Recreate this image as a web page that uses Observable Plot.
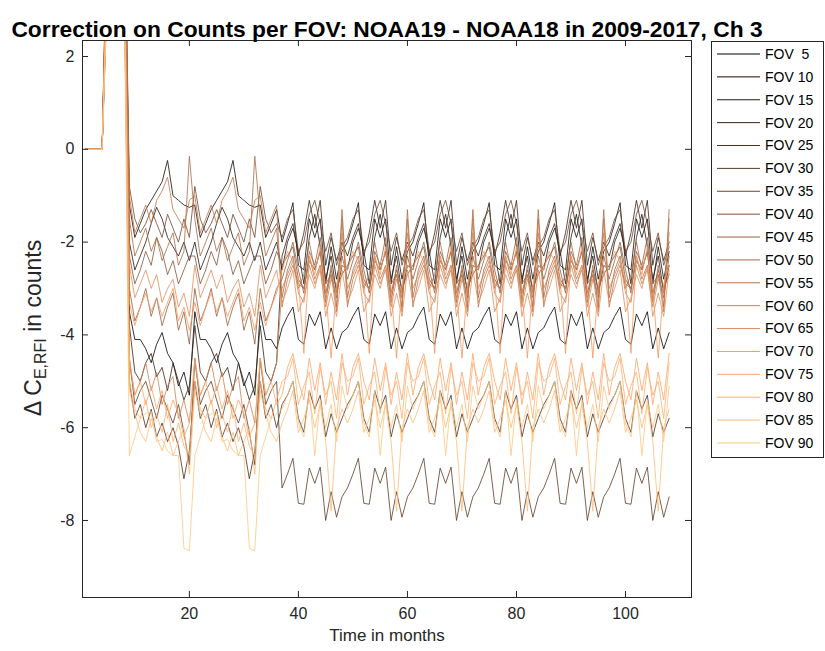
<!DOCTYPE html>
<html>
<head>
<meta charset="utf-8">
<script src="https://cdn.jsdelivr.net/npm/d3@7"></script>
<script src="https://cdn.jsdelivr.net/npm/@observablehq/plot@0.6"></script>
<style>
  html, body { margin: 0; padding: 0; background: #ffffff; }
</style>
</head>
<body>
<div id="chart"></div>
<script>
const titleText = "Correction on Counts per FOV: NOAA19 - NOAA18 in 2009-2017, Ch 3";
const xTicks = [20, 40, 60, 80, 100];
const yTicks = [-8, -6, -4, -2, 0, 2];
const fovLabels = ["FOV\u00a0\u00a05","FOV 10","FOV 15","FOV 20","FOV 25","FOV 30","FOV 35","FOV 40","FOV 45",
                   "FOV 50","FOV 55","FOV 60","FOV 65","FOV 70","FOV 75","FOV 80","FOV 85","FOV 90"];
const colors = ["#000000","#130c07","#25170f","#382316","#4b2f1e","#5e3b25","#71462d","#835234","#965e3c",
                "#a96943","#bb754b","#ce8152","#e18d5a","#f49861","#ffa468","#ffb070","#ffbb77","#ffc77f"];

const fov5 = [0,0,0,0,4.8,7.5,8.2,5.5,
 -3.5,-4.1,-4.1,-4.3,-4.6,-4.2,-3.95,-4.4,-4.6,-5.1,-4.8,-5.3,
 -3.5,-4.1,-4.1,-4.3,-4.6,-4.2,-3.95,-4.4,-4.6,-5.1,-4.8,-5.3,
 -3.5,-4.1,-4.1,-4.3,
 -3.85,-3.6,-3.4,-4.1,-4.2,-3.55,-3.8,-3.5,-4.3,-3.85,-4.3,-3.95,
 -3.85,-3.6,-3.4,-4.1,-4.2,-3.55,-3.8,-3.5,-4.3,-3.85,-4.3,-3.95,
 -3.85,-3.6,-3.4,-4.1,-4.2,-3.55,-3.8,-3.5,-4.3,-3.85,-4.3,-3.95,
 -3.85,-3.6,-3.4,-4.1,-4.2,-3.55,-3.8,-3.5,-4.3,-3.85,-4.3,-3.95,
 -3.85,-3.6,-3.4,-4.1,-4.2,-3.55,-3.8,-3.5,-4.3,-3.85,-4.3,-3.95,
 -3.85,-3.6,-3.4,-4.1,-4.2,-3.55,-3.8,-3.5,-4.3,-3.85,-4.3,-3.95];
const fov10 = [0,0,0,0,5.2,8.0,7.6,6.0,
 -1.2,-1.9,-1.6,-1.3,-1.1,-0.9,-0.7,-0.24,-1.0,-1.1,-1.2,-1.25,
 -1.2,-1.9,-1.6,-1.3,-1.1,-0.9,-0.7,-0.24,-1.0,-1.1,-1.2,-1.25,
 -1.2,-1.9,-1.6,-1.3,
 -2.0,-1.6,-1.15,-2.5,-2.6,-1.5,-1.9,-1.5,-2.9,-2.1,-2.8,-2.2,
 -2.0,-1.6,-1.15,-2.5,-2.6,-1.5,-1.9,-1.5,-2.9,-2.1,-2.8,-2.2,
 -2.0,-1.6,-1.15,-2.5,-2.6,-1.5,-1.9,-1.5,-2.9,-2.1,-2.8,-2.2,
 -2.0,-1.6,-1.15,-2.5,-2.6,-1.5,-1.9,-1.5,-2.9,-2.1,-2.8,-2.2,
 -2.0,-1.6,-1.15,-2.5,-2.6,-1.5,-1.9,-1.5,-2.9,-2.1,-2.8,-2.2,
 -2.0,-1.6,-1.15,-2.5,-2.6,-1.5,-1.9,-1.5,-2.9,-2.1,-2.8,-2.2];
const fov15 = [0,0,0,0,3.9,6.8,7.2,4.6,
 -2.0,-2.6,-2.3,-2.0,-1.6,-1.25,-1.5,-1.9,-2.1,-2.3,-2.0,-2.4,
 -2.0,-2.6,-2.3,-2.0,-1.6,-1.25,-1.5,-1.9,-2.1,-2.3,-2.0,-2.4,
 -2.0,-2.6,-2.3,-2.0,
 -2.6,-2.0,-1.7,-2.2,-2.9,-1.9,-1.4,-2.1,-2.8,-2.3,-3.1,-2.5,
 -2.6,-2.0,-1.7,-2.2,-2.9,-1.9,-1.4,-2.1,-2.8,-2.3,-3.1,-2.5,
 -2.6,-2.0,-1.7,-2.2,-2.9,-1.9,-1.4,-2.1,-2.8,-2.3,-3.1,-2.5,
 -2.6,-2.0,-1.7,-2.2,-2.9,-1.9,-1.4,-2.1,-2.8,-2.3,-3.1,-2.5,
 -2.6,-2.0,-1.7,-2.2,-2.9,-1.9,-1.4,-2.1,-2.8,-2.3,-3.1,-2.5,
 -2.6,-2.0,-1.7,-2.2,-2.9,-1.9,-1.4,-2.1,-2.8,-2.3,-3.1,-2.5];
const fov20 = [0,0,0,0,4.4,7.1,6.9,5.1,
 -3.8,-4.8,-5.0,-4.6,-4.4,-4.9,-4.7,-5.2,-4.6,-5.0,-5.4,-5.1,
 -3.8,-4.8,-5.0,-4.6,-4.4,-4.9,-4.7,-5.2,-4.6,-5.0,-5.4,-5.1,
 -3.8,-4.8,-5.0,-4.6,
 -2.3,-1.9,-1.6,-2.3,-1.8,-1.1,-1.7,-1.1,-2.5,-1.9,-2.4,-2.0,
 -2.3,-1.9,-1.6,-2.3,-1.8,-1.1,-1.7,-1.1,-2.5,-1.9,-2.4,-2.0,
 -2.3,-1.9,-1.6,-2.3,-1.8,-1.1,-1.7,-1.1,-2.5,-1.9,-2.4,-2.0,
 -2.3,-1.9,-1.6,-2.3,-1.8,-1.1,-1.7,-1.1,-2.5,-1.9,-2.4,-2.0,
 -2.3,-1.9,-1.6,-2.3,-1.8,-1.1,-1.7,-1.1,-2.5,-1.9,-2.4,-2.0,
 -2.3,-1.9,-1.6,-2.3,-1.8,-1.1,-1.7,-1.1,-2.5,-1.9,-2.4,-2.0];
const fov25 = [0,0,0,0,3.6,6.2,6.6,4.2,
 -5.0,-5.8,-5.5,-6.0,-5.6,-6.2,-5.9,-6.3,-6.0,-6.4,-7.1,-6.5,
 -5.0,-5.8,-5.5,-6.0,-5.6,-6.2,-5.9,-6.3,-6.0,-6.4,-7.1,-6.5,
 -5.0,-5.8,-5.5,-6.0,
 -5.5,-5.3,-5.0,-5.8,-6.1,-5.2,-5.6,-5.3,-6.2,-5.7,-6.1,-5.8,
 -5.5,-5.3,-5.0,-5.8,-6.1,-5.2,-5.6,-5.3,-6.2,-5.7,-6.1,-5.8,
 -5.5,-5.3,-5.0,-5.8,-6.1,-5.2,-5.6,-5.3,-6.2,-5.7,-6.1,-5.8,
 -5.5,-5.3,-5.0,-5.8,-6.1,-5.2,-5.6,-5.3,-6.2,-5.7,-6.1,-5.8,
 -5.5,-5.3,-5.0,-5.8,-6.1,-5.2,-5.6,-5.3,-6.2,-5.7,-6.1,-5.8,
 -5.5,-5.3,-5.0,-5.8,-6.1,-5.2,-5.6,-5.3,-6.2,-5.7,-6.1,-5.8];
const fov30 = [0,0,0,0,4.0,6.5,7.0,4.4,
 -4.5,-5.5,-5.2,-5.0,-5.4,-5.8,-5.3,-5.6,-5.9,-5.5,-6.1,-6.8,
 -4.5,-5.5,-5.2,-5.0,-5.4,-5.8,-5.3,-5.6,-5.9,-5.5,-6.1,-6.8,
 -4.5,-5.5,-5.2,-5.0,
 -7.3,-7.0,-6.66,-7.63,-7.65,-6.87,-7.2,-6.85,-8.0,-7.38,-7.93,-7.49,
 -7.3,-7.0,-6.66,-7.63,-7.65,-6.87,-7.2,-6.85,-8.0,-7.38,-7.93,-7.49,
 -7.3,-7.0,-6.66,-7.63,-7.65,-6.87,-7.2,-6.85,-8.0,-7.38,-7.93,-7.49,
 -7.3,-7.0,-6.66,-7.63,-7.65,-6.87,-7.2,-6.85,-8.0,-7.38,-7.93,-7.49,
 -7.3,-7.0,-6.66,-7.63,-7.65,-6.87,-7.2,-6.85,-8.0,-7.38,-7.93,-7.49,
 -7.3,-7.0,-6.66,-7.63,-7.65,-6.87,-7.2,-6.85,-8.0,-7.38,-7.93,-7.49];
const fov35 = [0,0,0,0,5.6,8.4,8.0,6.3,
 -0.8,-1.5,-1.8,-1.6,-1.3,-1.6,-1.9,-1.4,-1.7,-2.0,-1.5,-1.9,
 -0.8,-1.5,-1.8,-1.6,-1.3,-1.6,-1.9,-1.4,-1.7,-2.0,-1.5,-1.9,
 -0.8,-1.5,-1.8,-1.6,
 -1.9,-1.5,-1.3,-2.2,-2.0,-1.4,-1.1,-1.6,-2.2,-1.8,-2.5,-2.1,
 -1.9,-1.5,-1.3,-2.2,-2.0,-1.4,-1.1,-1.6,-2.2,-1.8,-2.5,-2.1,
 -1.9,-1.5,-1.3,-2.2,-2.0,-1.4,-1.1,-1.6,-2.2,-1.8,-2.5,-2.1,
 -1.9,-1.5,-1.3,-2.2,-2.0,-1.4,-1.1,-1.6,-2.2,-1.8,-2.5,-2.1,
 -1.9,-1.5,-1.3,-2.2,-2.0,-1.4,-1.1,-1.6,-2.2,-1.8,-2.5,-2.1,
 -1.9,-1.5,-1.3,-2.2,-2.0,-1.4,-1.1,-1.6,-2.2,-1.8,-2.5,-2.1];
const fov40 = [0,0,0,0,4.9,7.4,7.8,5.4,
 -2.3,-2.9,-2.6,-2.2,-2.5,-1.9,-2.2,-2.7,-2.4,-2.9,-2.6,-2.3,
 -2.3,-2.9,-2.6,-2.2,-2.5,-1.9,-2.2,-2.7,-2.4,-2.9,-2.6,-2.3,
 -2.3,-2.9,-2.6,-2.2,
 -2.5,-2.3,-2.1,-2.8,-3.0,-2.4,-2.6,-2.2,-3.1,-2.6,-3.0,-2.7,
 -2.5,-2.3,-2.1,-2.8,-3.0,-2.4,-2.6,-2.2,-3.1,-2.6,-3.0,-2.7,
 -2.5,-2.3,-2.1,-2.8,-3.0,-2.4,-2.6,-2.2,-3.1,-2.6,-3.0,-2.7,
 -2.5,-2.3,-2.1,-2.8,-3.0,-2.4,-2.6,-2.2,-3.1,-2.6,-3.0,-2.7,
 -2.5,-2.3,-2.1,-2.8,-3.0,-2.4,-2.6,-2.2,-3.1,-2.6,-3.0,-2.7,
 -2.5,-2.3,-2.1,-2.8,-3.0,-2.4,-2.6,-2.2,-3.1,-2.6,-3.0,-2.7];
const fov45 = [0,0,0,0,4.3,6.9,7.3,4.9,
 -3.0,-3.7,-3.4,-3.0,-3.6,-3.2,-3.8,-3.4,-3.1,-3.9,-3.5,-4.2,
 -3.0,-3.7,-3.4,-3.0,-3.6,-3.2,-3.8,-3.4,-3.1,-3.9,-3.5,-4.2,
 -3.0,-3.7,-3.4,-3.0,
 -2.8,-2.4,-2.0,-2.6,-3.1,-2.2,-2.5,-1.9,-2.9,-2.7,-3.2,-2.3,
 -2.8,-2.4,-2.0,-2.6,-3.1,-2.2,-2.5,-1.9,-2.9,-2.7,-3.2,-2.3,
 -2.8,-2.4,-2.0,-2.6,-3.1,-2.2,-2.5,-1.9,-2.9,-2.7,-3.2,-2.3,
 -2.8,-2.4,-2.0,-2.6,-3.1,-2.2,-2.5,-1.9,-2.9,-2.7,-3.2,-2.3,
 -2.8,-2.4,-2.0,-2.6,-3.1,-2.2,-2.5,-1.9,-2.9,-2.7,-3.2,-2.3,
 -2.8,-2.4,-2.0,-2.6,-3.1,-2.2,-2.5,-1.9,-2.9,-2.7,-3.2,-2.3];
const fov50 = [0,0,0,0,5.0,7.8,8.3,5.8,
 -1.5,-2.3,-2.0,-1.7,-2.2,-1.9,-2.4,-2.1,-1.8,-2.5,-2.2,-0.15,
 -1.5,-2.3,-2.0,-1.7,-2.2,-1.9,-2.4,-2.1,-1.8,-2.5,-2.2,-0.15,
 -1.5,-2.3,-2.0,-1.7,
 -3.2,-2.6,-2.3,-3.0,-2.7,-2.0,-2.6,-2.2,-3.3,-2.5,-3.4,-1.3,
 -3.2,-2.6,-2.3,-3.0,-2.7,-2.0,-2.6,-2.2,-3.3,-2.5,-3.4,-1.3,
 -3.2,-2.6,-2.3,-3.0,-2.7,-2.0,-2.6,-2.2,-3.3,-2.5,-3.4,-1.3,
 -3.2,-2.6,-2.3,-3.0,-2.7,-2.0,-2.6,-2.2,-3.3,-2.5,-3.4,-1.3,
 -3.2,-2.6,-2.3,-3.0,-2.7,-2.0,-2.6,-2.2,-3.3,-2.5,-3.4,-1.3,
 -3.2,-2.6,-2.3,-3.0,-2.7,-2.0,-2.6,-2.2,-3.3,-2.5,-3.4,-1.3];
const fov55 = [0,0,0,0,5.4,8.1,7.7,6.1,
 -1.0,-1.8,-1.5,-1.2,-1.6,-1.1,-0.9,-0.6,-1.3,-1.5,-1.7,-1.1,
 -1.0,-1.8,-1.5,-1.2,-1.6,-1.1,-0.9,-0.6,-1.3,-1.5,-1.7,-1.1,
 -1.0,-1.8,-1.5,-1.2,
 -3.4,-2.8,-2.5,-2.9,-3.0,-2.3,-2.8,-2.5,-3.2,-2.7,-3.5,-1.5,
 -3.4,-2.8,-2.5,-2.9,-3.0,-2.3,-2.8,-2.5,-3.2,-2.7,-3.5,-1.5,
 -3.4,-2.8,-2.5,-2.9,-3.0,-2.3,-2.8,-2.5,-3.2,-2.7,-3.5,-1.5,
 -3.4,-2.8,-2.5,-2.9,-3.0,-2.3,-2.8,-2.5,-3.2,-2.7,-3.5,-1.5,
 -3.4,-2.8,-2.5,-2.9,-3.0,-2.3,-2.8,-2.5,-3.2,-2.7,-3.5,-1.5,
 -3.4,-2.8,-2.5,-2.9,-3.0,-2.3,-2.8,-2.5,-3.2,-2.7,-3.5,-1.5];
const fov60 = [0,0,0,0,4.1,6.6,6.8,4.7,
 -4.6,-5.3,-5.0,-4.6,-5.2,-4.8,-5.5,-5.1,-4.9,-5.8,-5.4,-5.9,
 -4.6,-5.3,-5.0,-4.6,-5.2,-4.8,-5.5,-5.1,-4.9,-5.8,-5.4,-5.9,
 -4.6,-5.3,-5.0,-4.6,
 -3.0,-2.7,-2.4,-3.1,-3.3,-2.5,-2.9,-2.6,-3.4,-2.8,-3.1,-1.8,
 -3.0,-2.7,-2.4,-3.1,-3.3,-2.5,-2.9,-2.6,-3.4,-2.8,-3.1,-1.8,
 -3.0,-2.7,-2.4,-3.1,-3.3,-2.5,-2.9,-2.6,-3.4,-2.8,-3.1,-1.8,
 -3.0,-2.7,-2.4,-3.1,-3.3,-2.5,-2.9,-2.6,-3.4,-2.8,-3.1,-1.8,
 -3.0,-2.7,-2.4,-3.1,-3.3,-2.5,-2.9,-2.6,-3.4,-2.8,-3.1,-1.8,
 -3.0,-2.7,-2.4,-3.1,-3.3,-2.5,-2.9,-2.6,-3.4,-2.8,-3.1,-1.8];
const fov65 = [0,0,0,0,4.7,7.3,7.5,5.2,
 -2.5,-3.2,-2.9,-2.6,-3.0,-2.7,-3.3,-3.0,-2.8,-3.4,-3.1,-3.6,
 -2.5,-3.2,-2.9,-2.6,-3.0,-2.7,-3.3,-3.0,-2.8,-3.4,-3.1,-3.6,
 -2.5,-3.2,-2.9,-2.6,
 -3.3,-3.0,-2.6,-3.5,-3.2,-2.7,-3.0,-2.5,-3.6,-3.1,-3.6,-2.6,
 -3.3,-3.0,-2.6,-3.5,-3.2,-2.7,-3.0,-2.5,-3.6,-3.1,-3.6,-2.6,
 -3.3,-3.0,-2.6,-3.5,-3.2,-2.7,-3.0,-2.5,-3.6,-3.1,-3.6,-2.6,
 -3.3,-3.0,-2.6,-3.5,-3.2,-2.7,-3.0,-2.5,-3.6,-3.1,-3.6,-2.6,
 -3.3,-3.0,-2.6,-3.5,-3.2,-2.7,-3.0,-2.5,-3.6,-3.1,-3.6,-2.6,
 -3.3,-3.0,-2.6,-3.5,-3.2,-2.7,-3.0,-2.5,-3.6,-3.1,-3.6,-2.6];
const fov70 = [0,0,0,0,4.5,7.0,7.4,5.0,
 -3.3,-3.8,-3.4,-3.1,-3.5,-3.2,-3.6,-3.3,-3.0,-3.7,-3.4,-3.9,
 -3.3,-3.8,-3.4,-3.1,-3.5,-3.2,-3.6,-3.3,-3.0,-3.7,-3.4,-3.9,
 -3.3,-3.8,-3.4,-3.1,
 -2.6,-2.2,-2.4,-2.8,-4.4,-2.3,-2.7,-2.1,-3.0,-4.5,-2.9,-2.5,
 -2.6,-2.2,-2.4,-2.8,-4.4,-2.3,-2.7,-2.1,-3.0,-4.5,-2.9,-2.5,
 -2.6,-2.2,-2.4,-2.8,-4.4,-2.3,-2.7,-2.1,-3.0,-4.5,-2.9,-2.5,
 -2.6,-2.2,-2.4,-2.8,-4.4,-2.3,-2.7,-2.1,-3.0,-4.5,-2.9,-2.5,
 -2.6,-2.2,-2.4,-2.8,-4.4,-2.3,-2.7,-2.1,-3.0,-4.5,-2.9,-2.5,
 -2.6,-2.2,-2.4,-2.8,-4.4,-2.3,-2.7,-2.1,-3.0,-4.5,-2.9,-2.5];
const fov75 = [0,0,0,0,3.8,6.3,6.7,4.3,
 -4.5,-5.3,-5.0,-5.5,-5.1,-5.6,-5.2,-5.8,-5.4,-5.7,-6.2,-5.9,
 -4.5,-5.3,-5.0,-5.5,-5.1,-5.6,-5.2,-5.8,-5.4,-5.7,-6.2,-5.9,
 -4.5,-5.3,-5.0,-5.5,
 -5.3,-4.7,-4.4,-5.0,-5.4,-4.5,-5.2,-4.6,-5.5,-4.8,-5.4,-4.4,
 -5.3,-4.7,-4.4,-5.0,-5.4,-4.5,-5.2,-4.6,-5.5,-4.8,-5.4,-4.4,
 -5.3,-4.7,-4.4,-5.0,-5.4,-4.5,-5.2,-4.6,-5.5,-4.8,-5.4,-4.4,
 -5.3,-4.7,-4.4,-5.0,-5.4,-4.5,-5.2,-4.6,-5.5,-4.8,-5.4,-4.4,
 -5.3,-4.7,-4.4,-5.0,-5.4,-4.5,-5.2,-4.6,-5.5,-4.8,-5.4,-4.4,
 -5.3,-4.7,-4.4,-5.0,-5.4,-4.5,-5.2,-4.6,-5.5,-4.8,-5.4,-4.4];
const fov80 = [0,0,0,0,4.2,6.7,7.1,4.8,
 -5.0,-5.6,-5.8,-5.4,-6.0,-5.7,-6.1,-5.5,-6.3,-5.9,-6.4,-6.6,
 -5.0,-5.6,-5.8,-5.4,-6.0,-5.7,-6.1,-5.5,-6.3,-5.9,-6.4,-6.6,
 -5.0,-5.6,-5.8,-5.4,
 -5.0,-4.9,-4.5,-5.5,-5.1,-4.8,-5.7,-4.7,-5.3,-5.0,-5.8,-4.6,
 -5.0,-4.9,-4.5,-5.5,-5.1,-4.8,-5.7,-4.7,-5.3,-5.0,-5.8,-4.6,
 -5.0,-4.9,-4.5,-5.5,-5.1,-4.8,-5.7,-4.7,-5.3,-5.0,-5.8,-4.6,
 -5.0,-4.9,-4.5,-5.5,-5.1,-4.8,-5.7,-4.7,-5.3,-5.0,-5.8,-4.6,
 -5.0,-4.9,-4.5,-5.5,-5.1,-4.8,-5.7,-4.7,-5.3,-5.0,-5.8,-4.6,
 -5.0,-4.9,-4.5,-5.5,-5.1,-4.8,-5.7,-4.7,-5.3,-5.0,-5.8,-4.6];
const fov85 = [0,0,0,0,3.7,6.0,6.4,4.1,
 -5.2,-5.7,-6.1,-6.3,-5.8,-6.2,-6.5,-6.1,-6.6,-6.3,-6.0,-7.0,
 -5.2,-5.7,-6.1,-6.3,-5.8,-6.2,-6.5,-6.1,-6.6,-6.3,-6.0,-7.0,
 -5.2,-5.7,-6.1,-6.3,
 -5.9,-5.6,-5.2,-6.1,-5.8,-5.4,-6.0,-5.5,-6.3,-7.8,-6.0,-5.6,
 -5.9,-5.6,-5.2,-6.1,-5.8,-5.4,-6.0,-5.5,-6.3,-7.8,-6.0,-5.6,
 -5.9,-5.6,-5.2,-6.1,-5.8,-5.4,-6.0,-5.5,-6.3,-7.8,-6.0,-5.6,
 -5.9,-5.6,-5.2,-6.1,-5.8,-5.4,-6.0,-5.5,-6.3,-7.8,-6.0,-5.6,
 -5.9,-5.6,-5.2,-6.1,-5.8,-5.4,-6.0,-5.5,-6.3,-7.8,-6.0,-5.6,
 -5.9,-5.6,-5.2,-6.1,-5.8,-5.4,-6.0,-5.5,-6.3,-7.8,-6.0,-5.6];
const fov90 = [0,0,0,0,3.5,5.8,6.2,3.9,
 -6.6,-6.2,-5.8,-5.7,-5.65,-6.3,-6.25,-6.5,-6.6,-6.6,-8.6,-8.65,
 -6.6,-6.2,-5.8,-5.7,-5.65,-6.3,-6.25,-6.5,-6.6,-6.6,-8.6,-8.65,
 -6.6,-6.2,-5.8,-5.7,
 -5.6,-5.3,-5.0,-5.9,-6.2,-5.2,-6.6,-5.4,-6.0,-5.5,-6.3,-5.1,
 -5.6,-5.3,-5.0,-5.9,-6.2,-5.2,-6.6,-5.4,-6.0,-5.5,-6.3,-5.1,
 -5.6,-5.3,-5.0,-5.9,-6.2,-5.2,-6.6,-5.4,-6.0,-5.5,-6.3,-5.1,
 -5.6,-5.3,-5.0,-5.9,-6.2,-5.2,-6.6,-5.4,-6.0,-5.5,-6.3,-5.1,
 -5.6,-5.3,-5.0,-5.9,-6.2,-5.2,-6.6,-5.4,-6.0,-5.5,-6.3,-5.1,
 -5.6,-5.3,-5.0,-5.9,-6.2,-5.2,-6.6,-5.4,-6.0,-5.5,-6.3,-5.1];

const series = [fov5, fov10, fov15, fov20, fov25, fov30, fov35, fov40, fov45,
                fov50, fov55, fov60, fov65, fov70, fov75, fov80, fov85, fov90];
const months = d3.range(1, 109);

const rows = series.flatMap((vals, i) =>
  vals.map((v, j) => ({month: months[j], value: v, fov: fovLabels[i]})));

const xDomain = [0.4, 112.1];
const yDomain = [-9.66, 2.345];
const axisColor = "#262626";
const font = "'Liberation Sans', Arial, Helvetica, sans-serif";

const chart = Plot.plot({
  width: 825,
  height: 651,
  marginLeft: 82,
  marginRight: 134,
  marginTop: 40,
  marginBottom: 54,
  style: {fontFamily: font, fontSize: "16px", color: axisColor, background: "#ffffff"},
  x: {domain: xDomain, ticks: xTicks, tickSize: 0, tickPadding: 10, tickFormat: d => String(d), label: null},
  y: {domain: yDomain, ticks: yTicks, tickSize: 0, tickPadding: 8, tickFormat: d => String(d), label: null},
  color: {domain: fovLabels, range: colors},
  marks: [
    Plot.line(rows, {x: "month", y: "value", z: "fov", stroke: "fov", strokeWidth: 0.8, clip: true}),
    Plot.frame({stroke: axisColor, strokeWidth: 1}),
    Plot.ruleX(xTicks, {x: d => d, y1: yDomain[0], y2: yDomain[0] + 0.13, stroke: axisColor}),
    Plot.ruleX(xTicks, {x: d => d, y1: yDomain[1] - 0.13, y2: yDomain[1], stroke: axisColor}),
    Plot.ruleY(yTicks, {y: d => d, x1: xDomain[0], x2: xDomain[0] + 1.1, stroke: axisColor}),
    Plot.ruleY(yTicks, {y: d => d, x1: xDomain[1] - 1.1, x2: xDomain[1], stroke: axisColor}),
    Plot.text([titleText], {frameAnchor: "top", dy: -20, fontWeight: "bold", fontSize: 22.8, fill: "#000000"}),
    Plot.text(["Time in months"], {frameAnchor: "bottom", dy: 43, fontSize: 17, fill: axisColor})
  ]
});

const svg = d3.select(chart);

// y axis label with subscript
const yl = svg.append("text")
  .attr("transform", "translate(41,328) rotate(-90)")
  .attr("text-anchor", "middle")
  .attr("font-family", font)
  .attr("font-size", 23)
  .attr("fill", axisColor);
yl.append("tspan").text("\u0394 C");
yl.append("tspan").attr("dy", 5).attr("font-size", 16).text("E,RFI");
yl.append("tspan").attr("dy", -5).text(" in counts");

// legend
const lg = svg.append("g").attr("font-family", font).attr("font-size", 14).attr("text-anchor", "start");
lg.append("rect").attr("x", 711.5).attr("y", 41.5).attr("width", 112).attr("height", 416)
  .attr("fill", "#ffffff").attr("stroke", axisColor).attr("stroke-width", 1);
fovLabels.forEach((lab, i) => {
  const yy = 54 + i * 22.88;
  lg.append("line").attr("x1", 717).attr("x2", 760).attr("y1", yy).attr("y2", yy)
    .attr("stroke", colors[i]).attr("stroke-width", 1);
  lg.append("text").attr("x", 765).attr("y", yy).attr("dy", "0.35em")
    .attr("text-anchor", "start").attr("fill", "#000000").text(lab);
});

document.getElementById("chart").appendChild(chart);
</script>
</body>
</html>
